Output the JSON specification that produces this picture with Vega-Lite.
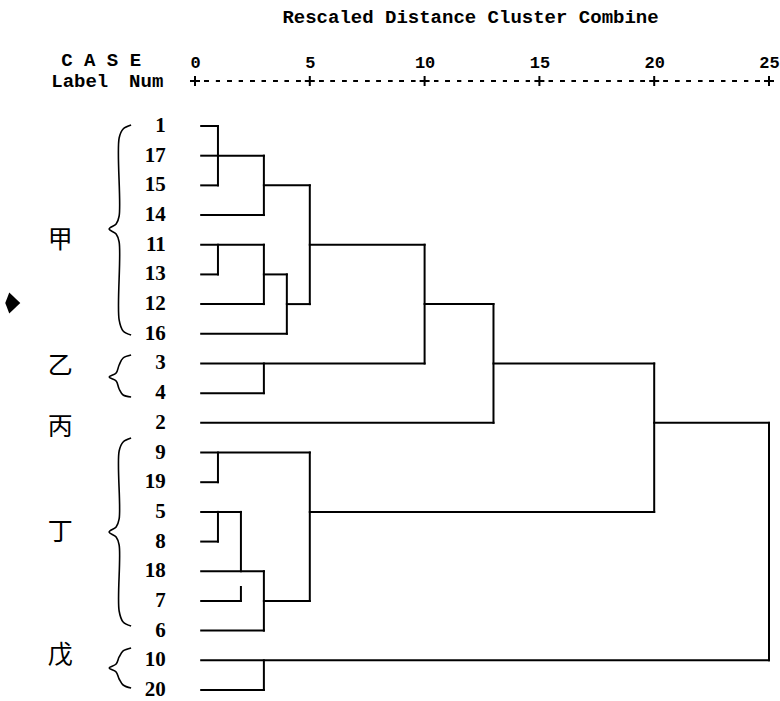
{
  "$schema": "https://vega.github.io/schema/vega-lite/v6.json",
  "width": 780,
  "height": 620,
  "autosize": "none",
  "padding": {"top": 81, "left": 0, "right": 0, "bottom": 0},
  "background": "white",
  "config": {
    "view": {"stroke": null},
    "axisX": {
      "orient": "top", "domain": false, "ticks": false, "grid": false,
      "labelPadding": 10, "labelFlush": false, "labelOverlap": false,
      "labelFont": "Liberation Mono", "labelFontSize": 17, "labelFontWeight": "bold", "labelColor": "black",
      "titleFont": "Liberation Mono", "titleFontSize": 19,
      "titleFontWeight": "bold", "titleColor": "black", "titlePadding": 27, "titleX": 470, "titleAlign": "center"
    }
  },
  "datasets": {
    "segs": [
      {"d1": 0.27, "d2": 1, "r1": 1, "r2": 1},
      {"d1": 0.27, "d2": 1, "r1": 2, "r2": 2},
      {"d1": 0.27, "d2": 1, "r1": 3, "r2": 3},
      {"d1": 0.27, "d2": 3, "r1": 4, "r2": 4},
      {"d1": 0.27, "d2": 3, "r1": 5, "r2": 5},
      {"d1": 0.27, "d2": 1, "r1": 6, "r2": 6},
      {"d1": 0.27, "d2": 3, "r1": 7, "r2": 7},
      {"d1": 0.27, "d2": 4, "r1": 8, "r2": 8},
      {"d1": 0.27, "d2": 10, "r1": 9, "r2": 9},
      {"d1": 0.27, "d2": 3, "r1": 10, "r2": 10},
      {"d1": 0.27, "d2": 13, "r1": 11, "r2": 11},
      {"d1": 0.27, "d2": 5, "r1": 12, "r2": 12},
      {"d1": 0.27, "d2": 1, "r1": 13, "r2": 13},
      {"d1": 0.27, "d2": 2, "r1": 14, "r2": 14},
      {"d1": 0.27, "d2": 1, "r1": 15, "r2": 15},
      {"d1": 0.27, "d2": 3, "r1": 16, "r2": 16},
      {"d1": 0.27, "d2": 2, "r1": 17, "r2": 17},
      {"d1": 0.27, "d2": 3, "r1": 18, "r2": 18},
      {"d1": 0.27, "d2": 25, "r1": 19, "r2": 19},
      {"d1": 0.27, "d2": 3, "r1": 20, "r2": 20},
      {"d1": 1, "d2": 3, "r1": 2, "r2": 2},
      {"d1": 3, "d2": 5, "r1": 3, "r2": 3},
      {"d1": 3, "d2": 4, "r1": 6, "r2": 6},
      {"d1": 4, "d2": 5, "r1": 7, "r2": 7},
      {"d1": 5, "d2": 10, "r1": 5, "r2": 5},
      {"d1": 10, "d2": 13, "r1": 7, "r2": 7},
      {"d1": 13, "d2": 20, "r1": 9, "r2": 9},
      {"d1": 3, "d2": 5, "r1": 17, "r2": 17},
      {"d1": 5, "d2": 20, "r1": 14, "r2": 14},
      {"d1": 20, "d2": 25, "r1": 11, "r2": 11},
      {"d1": 1, "d2": 1, "r1": 1, "r2": 3},
      {"d1": 3, "d2": 3, "r1": 2, "r2": 4},
      {"d1": 1, "d2": 1, "r1": 5, "r2": 6},
      {"d1": 3, "d2": 3, "r1": 5, "r2": 7},
      {"d1": 4, "d2": 4, "r1": 6, "r2": 8},
      {"d1": 5, "d2": 5, "r1": 3, "r2": 7},
      {"d1": 3, "d2": 3, "r1": 9, "r2": 10},
      {"d1": 10, "d2": 10, "r1": 5, "r2": 9},
      {"d1": 13, "d2": 13, "r1": 7, "r2": 11},
      {"d1": 1, "d2": 1, "r1": 12, "r2": 13},
      {"d1": 1, "d2": 1, "r1": 14, "r2": 15},
      {"d1": 2, "d2": 2, "r1": 14, "r2": 16},
      {"d1": 2, "d2": 2, "r1": 16.53, "r2": 17},
      {"d1": 3, "d2": 3, "r1": 16, "r2": 18},
      {"d1": 5, "d2": 5, "r1": 12, "r2": 17},
      {"d1": 20, "d2": 20, "r1": 9, "r2": 14},
      {"d1": 3, "d2": 3, "r1": 19, "r2": 20},
      {"d1": 25, "d2": 25, "r1": 11, "r2": 19}
    ],
    "leaves": [
      {"label": "1", "r": 1}, {"label": "17", "r": 2}, {"label": "15", "r": 3},
      {"label": "14", "r": 4}, {"label": "11", "r": 5}, {"label": "13", "r": 6},
      {"label": "12", "r": 7}, {"label": "16", "r": 8}, {"label": "3", "r": 9},
      {"label": "4", "r": 10}, {"label": "2", "r": 11}, {"label": "9", "r": 12},
      {"label": "19", "r": 13}, {"label": "5", "r": 14}, {"label": "8", "r": 15},
      {"label": "18", "r": 16}, {"label": "7", "r": 17}, {"label": "6", "r": 18},
      {"label": "10", "r": 19}, {"label": "20", "r": 20}
    ],
    "groups": [
      {"name": "甲", "r": 4.84},
      {"name": "乙", "r": 9.085},
      {"name": "丙", "r": 11.14},
      {"name": "丁", "r": 14.68},
      {"name": "戊", "r": 18.82}
    ],
    "braces": [
      {"b": "甲", "o": 1, "d": -2.783, "r": 0.966},
      {"b": "甲", "o": 2, "d": -3.130, "r": 1.101},
      {"b": "甲", "o": 3, "d": -3.304, "r": 1.404},
      {"b": "甲", "o": 4, "d": -3.304, "r": 4.032},
      {"b": "甲", "o": 5, "d": -3.435, "r": 4.301},
      {"b": "甲", "o": 6, "d": -3.739, "r": 4.470},
      {"b": "甲", "o": 7, "d": -3.435, "r": 4.638},
      {"b": "甲", "o": 8, "d": -3.304, "r": 4.908},
      {"b": "甲", "o": 9, "d": -3.304, "r": 7.535},
      {"b": "甲", "o": 10, "d": -3.130, "r": 7.906},
      {"b": "甲", "o": 11, "d": -2.783, "r": 8.041},
      {"b": "乙", "o": 1, "d": -2.783, "r": 8.715},
      {"b": "乙", "o": 2, "d": -3.130, "r": 8.816},
      {"b": "乙", "o": 3, "d": -3.304, "r": 9.052},
      {"b": "乙", "o": 4, "d": -3.435, "r": 9.321},
      {"b": "乙", "o": 5, "d": -3.739, "r": 9.456},
      {"b": "乙", "o": 6, "d": -3.435, "r": 9.591},
      {"b": "乙", "o": 7, "d": -3.304, "r": 9.860},
      {"b": "乙", "o": 8, "d": -3.130, "r": 10.062},
      {"b": "乙", "o": 9, "d": -2.783, "r": 10.129},
      {"b": "丁", "o": 1, "d": -2.783, "r": 11.511},
      {"b": "丁", "o": 2, "d": -3.130, "r": 11.646},
      {"b": "丁", "o": 3, "d": -3.304, "r": 11.949},
      {"b": "丁", "o": 4, "d": -3.304, "r": 14.239},
      {"b": "丁", "o": 5, "d": -3.435, "r": 14.509},
      {"b": "丁", "o": 6, "d": -3.739, "r": 14.677},
      {"b": "丁", "o": 7, "d": -3.435, "r": 14.846},
      {"b": "丁", "o": 8, "d": -3.304, "r": 15.115},
      {"b": "丁", "o": 9, "d": -3.304, "r": 17.339},
      {"b": "丁", "o": 10, "d": -3.130, "r": 17.709},
      {"b": "丁", "o": 11, "d": -2.783, "r": 17.844},
      {"b": "戊", "o": 1, "d": -2.783, "r": 18.585},
      {"b": "戊", "o": 2, "d": -3.130, "r": 18.686},
      {"b": "戊", "o": 3, "d": -3.304, "r": 18.888},
      {"b": "戊", "o": 4, "d": -3.435, "r": 19.124},
      {"b": "戊", "o": 5, "d": -3.739, "r": 19.259},
      {"b": "戊", "o": 6, "d": -3.435, "r": 19.394},
      {"b": "戊", "o": 7, "d": -3.304, "r": 19.630},
      {"b": "戊", "o": 8, "d": -3.130, "r": 19.832},
      {"b": "戊", "o": 9, "d": -2.783, "r": 19.933}
    ],
    "header": [
      {"text": "C A S E", "d": -5.826, "r": -1.22},
      {"text": "Label", "d": -6.261, "r": -0.516},
      {"text": "Num", "d": -2.870, "r": -0.516}
    ],
    "plus": [{"d": 0}, {"d": 5}, {"d": 10}, {"d": 15}, {"d": 20}, {"d": 25}],
    "marker": [{"d": -7.957, "r": 6.963}]
  },
  "layer": [
    {
      "data": {"name": "segs"},
      "mark": {"type": "rule", "stroke": "black", "strokeWidth": 2, "strokeCap": "square"},
      "encoding": {
        "x": {"field": "d1", "type": "quantitative",
          "scale": {"domain": [-8.4930, 25.4791], "nice": false, "zero": false},
          "axis": {"orient": "top", "values": [0, 5, 10, 15, 20, 25], "title": "Rescaled Distance Cluster Combine"}},
        "x2": {"field": "d2"},
        "y": {"field": "r1", "type": "quantitative",
          "scale": {"domain": [-0.516, 20.371], "nice": false, "zero": false, "reverse": true}, "axis": null},
        "y2": {"field": "r2"}
      }
    },
    {
      "data": {"name": "braces"},
      "mark": {"type": "line", "stroke": "black", "strokeWidth": 1.6, "interpolate": "catmull-rom", "clip": false},
      "encoding": {
        "x": {"field": "d", "type": "quantitative", "scale": {"domain": [-8.4930, 25.4791], "nice": false, "zero": false},
          "axis": {"orient": "top", "values": [0, 5, 10, 15, 20, 25], "title": "Rescaled Distance Cluster Combine"}},
        "y": {"field": "r", "type": "quantitative", "scale": {"domain": [-0.516, 20.371], "nice": false, "zero": false, "reverse": true}, "axis": null},
        "detail": {"field": "b"},
        "order": {"field": "o", "type": "quantitative"}
      }
    },
    {
      "data": {"name": "leaves"},
      "mark": {"type": "text", "align": "right", "baseline": "middle", "font": "Liberation Serif", "fontSize": 21, "fontWeight": "bold", "color": "black"},
      "encoding": {
        "x": {"datum": -1.27, "type": "quantitative", "scale": {"domain": [-8.4930, 25.4791], "nice": false, "zero": false},
          "axis": {"orient": "top", "values": [0, 5, 10, 15, 20, 25], "title": "Rescaled Distance Cluster Combine"}},
        "y": {"field": "r", "type": "quantitative", "scale": {"domain": [-0.516, 20.371], "nice": false, "zero": false, "reverse": true}, "axis": null},
        "text": {"field": "label"}
      }
    },
    {
      "data": {"name": "groups"},
      "mark": {"type": "text", "align": "center", "baseline": "middle", "font": "Noto Sans CJK SC", "fontSize": 25, "color": "black"},
      "encoding": {
        "x": {"datum": -5.87, "type": "quantitative", "scale": {"domain": [-8.4930, 25.4791], "nice": false, "zero": false},
          "axis": {"orient": "top", "values": [0, 5, 10, 15, 20, 25], "title": "Rescaled Distance Cluster Combine"}},
        "y": {"field": "r", "type": "quantitative", "scale": {"domain": [-0.516, 20.371], "nice": false, "zero": false, "reverse": true}, "axis": null},
        "text": {"field": "name"}
      }
    },
    {
      "data": {"name": "header"},
      "mark": {"type": "text", "align": "left", "baseline": "middle", "font": "Liberation Mono", "fontSize": 19, "fontWeight": "bold", "color": "black", "clip": false},
      "encoding": {
        "x": {"field": "d", "type": "quantitative", "scale": {"domain": [-8.4930, 25.4791], "nice": false, "zero": false},
          "axis": {"orient": "top", "values": [0, 5, 10, 15, 20, 25], "title": "Rescaled Distance Cluster Combine"}},
        "y": {"field": "r", "type": "quantitative", "scale": {"domain": [-0.516, 20.371], "nice": false, "zero": false, "reverse": true}, "axis": null},
        "text": {"field": "text"}
      }
    },
    {
      "data": {"name": "plus"},
      "mark": {"type": "rule", "stroke": "black", "strokeWidth": 1.8, "strokeDash": [4, 7.48], "strokeDashOffset": -9.5},
      "encoding": {
        "x": {"datum": 0, "type": "quantitative", "scale": {"domain": [-8.4930, 25.4791], "nice": false, "zero": false},
          "axis": {"orient": "top", "values": [0, 5, 10, 15, 20, 25], "title": "Rescaled Distance Cluster Combine"}},
        "x2": {"datum": 25},
        "y": {"datum": -0.516, "type": "quantitative", "scale": {"domain": [-0.516, 20.371], "nice": false, "zero": false, "reverse": true}, "axis": null}
      }
    },
    {
      "data": {"name": "plus"},
      "mark": {"type": "point", "shape": "M-1,0L1,0M0,-1L0,1", "filled": false, "stroke": "black", "strokeWidth": 2, "size": 100, "opacity": 1},
      "encoding": {
        "x": {"field": "d", "type": "quantitative", "scale": {"domain": [-8.4930, 25.4791], "nice": false, "zero": false},
          "axis": {"orient": "top", "values": [0, 5, 10, 15, 20, 25], "title": "Rescaled Distance Cluster Combine"}},
        "y": {"datum": -0.516, "type": "quantitative", "scale": {"domain": [-0.516, 20.371], "nice": false, "zero": false, "reverse": true}, "axis": null}
      }
    },
    {
      "data": {"name": "marker"},
      "mark": {"type": "point", "shape": "M-0.29,-1L0.76,0L-0.29,1L-0.67,0Z", "filled": true, "fill": "black", "stroke": null, "size": 441, "opacity": 1},
      "encoding": {
        "x": {"field": "d", "type": "quantitative", "scale": {"domain": [-8.4930, 25.4791], "nice": false, "zero": false},
          "axis": {"orient": "top", "values": [0, 5, 10, 15, 20, 25], "title": "Rescaled Distance Cluster Combine"}},
        "y": {"field": "r", "type": "quantitative", "scale": {"domain": [-0.516, 20.371], "nice": false, "zero": false, "reverse": true}, "axis": null}
      }
    }
  ]
}
